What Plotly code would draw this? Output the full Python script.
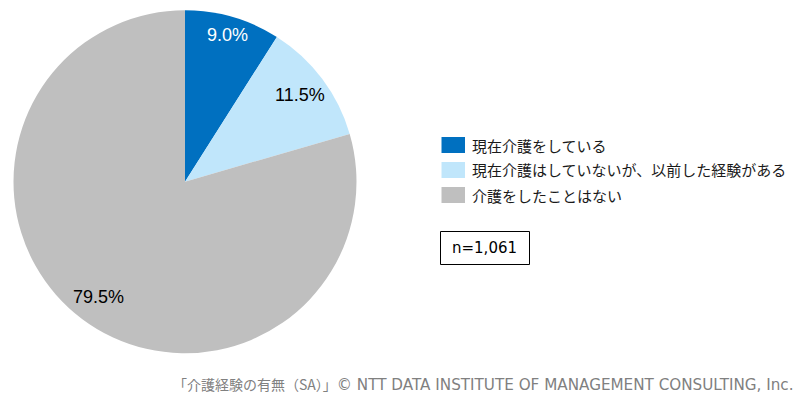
import math
import plotly.graph_objects as go

# ---- data ----
categories = ["現在介護をしている", "現在介護はしていないが、以前した経験がある", "介護をしたことはない"]
values = [9.0, 11.5, 79.5]
colors = ["#0070C0", "#C0E6FB", "#BFBFBF"]
label_colors = ["#FFFFFF", "#000000", "#000000"]
label_r = [0.89, 0.84, 0.84]
sample_note = "n=1,061"
footer_jp = "「介護経験の有無（SA）」"
footer_en = "© NTT DATA INSTITUTE OF MANAGEMENT CONSULTING, Inc."

W, H = 806, 410
# pie geometry in pixels
x0, x1, y0, y1 = 13.5, 356.5, 9.5, 354.0
cx, cy = (x0 + x1) / 2, (y0 + y1) / 2
R = (x1 - x0) / 2

def px(x):
    return x / W

def py(y):
    return 1 - y / H

fig = go.Figure(go.Pie(
    labels=categories, values=values, sort=False, direction="clockwise", rotation=0,
    marker=dict(colors=colors, line=dict(width=0)),
    textinfo="none", hoverinfo="label+percent", showlegend=False,
    domain=dict(x=[px(x0), px(x1)], y=[py(y1), py(y0)]),
))

annotations = []
shapes = []
total = sum(values)
cum = 0.0
for v, c, f in zip(values, label_colors, label_r):
    mid = (cum + v / 2) / total * 2 * math.pi
    cum += v
    lx = cx + R * f * math.sin(mid)
    ly = cy - R * f * math.cos(mid)
    annotations.append(dict(x=px(lx), y=py(ly), xref="paper", yref="paper",
                            text=f"{v:.1f}%", showarrow=False,
                            font=dict(family="Liberation Sans, Arial", size=18, color=c),
                            xanchor="center", yanchor="middle"))

# legend drawn from categories
leg_x, leg_y, leg_dy = 441.5, 145.0, 25.0
for i, (cat, col) in enumerate(zip(categories, colors)):
    yc = leg_y + i * leg_dy
    shapes.append(dict(type="rect", xref="paper", yref="paper",
                       x0=px(leg_x), x1=px(leg_x + 23.5), y0=py(yc + 8), y1=py(yc - 8),
                       fillcolor=col, line=dict(width=0)))
    annotations.append(dict(x=px(leg_x + 28.5), y=py(yc), xref="paper", yref="paper",
                            text=cat, showarrow=False, xanchor="left", yanchor="middle",
                            font=dict(family="Noto Sans CJK JP", size=15, color="#1a1a1a")))

# n box
bx0, bx1, by0, by1 = 440.5, 529.5, 231.5, 264.5
shapes.append(dict(type="rect", xref="paper", yref="paper",
                   x0=px(bx0), x1=px(bx1), y0=py(by1), y1=py(by0),
                   fillcolor="rgba(0,0,0,0)", line=dict(color="#000000", width=1)))
annotations.append(dict(x=px((bx0 + bx1) / 2), y=py((by0 + by1) / 2), xref="paper", yref="paper",
                        text=sample_note, showarrow=False, xanchor="center", yanchor="middle",
                        font=dict(family="DejaVu Sans, Verdana", size=15, color="#000000")))

# footer
annotations.append(dict(x=px(796), y=py(384), xref="paper", yref="paper",
                        text=f'<span style="font-family:Noto Sans CJK JP;font-size:14px">{footer_jp}</span>{footer_en}',
                        showarrow=False, xanchor="right", yanchor="middle",
                        font=dict(family="DejaVu Sans, Noto Sans CJK JP", size=15.2, color="#808080")))

fig.update_layout(width=W, height=H, margin=dict(l=0, r=0, t=0, b=0),
                  paper_bgcolor="white", plot_bgcolor="white",
                  annotations=annotations, shapes=shapes)
fig.write_html("out.html", config={"displayModeBar": False},
               post_script="document.body.style.margin='0px';document.body.style.overflow='hidden';")
